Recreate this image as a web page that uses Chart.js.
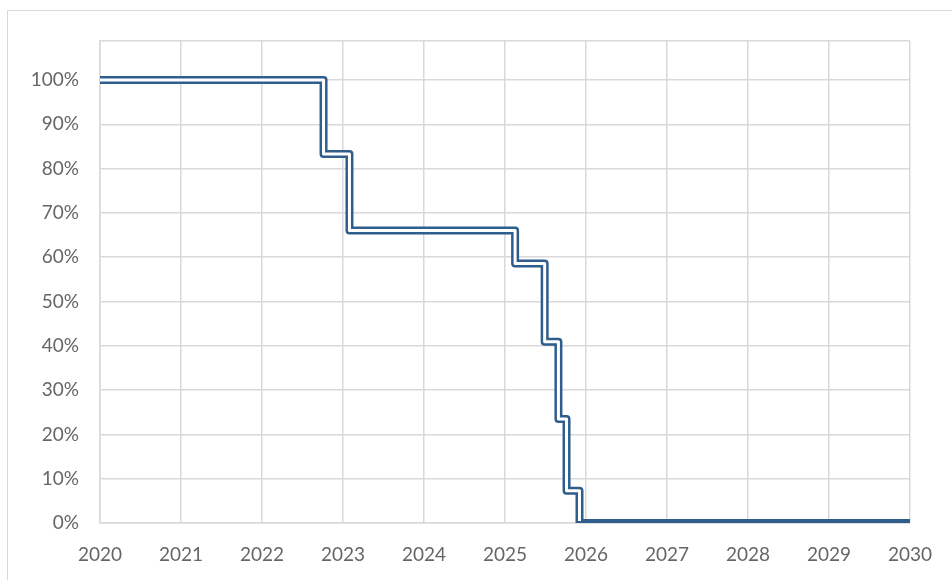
<!DOCTYPE html>
<html>
<head>
<meta charset="utf-8">
<title>Step chart 2020-2030</title>
<script src="https://cdn.jsdelivr.net/npm/chart.js@4.4.1/dist/chart.umd.min.js"></script>
<style>
  html, body { margin: 0; padding: 0; background: #fff; }
  #wrap { position: relative; width: 952px; height: 580px; overflow: hidden; }
  #frame {
    position: absolute; left: 7px; top: 10px; width: 1000px; height: 700px;
    border-left: 1px solid #d9d9d9; border-top: 1px solid #d9d9d9;
  }
  #chart { position: absolute; left: 0; top: 0; }
</style>
</head>
<body>
<div id="wrap">
  <div id="frame"></div>
  <canvas id="chart" width="952" height="580"></canvas>
</div>
<script>
// Step data (x = year, y = share)
const years = [2020, 2022.76, 2023.08, 2025.125, 2025.49, 2025.66, 2025.76, 2025.92, 2030];
const share = [1.00, 0.833, 0.66, 0.586, 0.409, 0.235, 0.073, 0, 0];

// Axis settings
const xMin = 2020;
const xMax = 2030;
const yMax = 1.088;   // plot box ends a bit above 100%

const LINE_DARK = '#2f5d8c';
const GRID = '#d9d9d9';
const TEXT = '#666666';
const FONT = { family: 'Lato, "Open Sans", sans-serif', size: 19 };

const points = years.map((x, i) => ({ x: x, y: share[i] }));

new Chart(document.getElementById('chart'), {
  type: 'line',
  data: {
    datasets: [
      {
        // white centre stroke, drawn on top
        data: points,
        stepped: 'before',
        borderColor: '#ffffff',
        borderWidth: 3,
        borderJoinStyle: 'round',
        pointRadius: 0,
        fill: false,
        clip: { left: 0, top: 0, right: 0, bottom: -2 },
        order: 0
      },
      {
        // dark outer stroke
        data: points,
        stepped: 'before',
        borderColor: LINE_DARK,
        borderWidth: 8,
        borderJoinStyle: 'round',
        pointRadius: 0,
        fill: false,
        order: 1
      }
    ]
  },
  options: {
    responsive: false,
    animation: false,
    layout: { padding: { top: 41, right: 37, left: 0, bottom: 0 } },
    plugins: { legend: { display: false }, tooltip: { enabled: false } },
    scales: {
      x: {
        type: 'linear',
        min: xMin,
        max: xMax,
        afterFit: (s) => { s.height = 57; },
        grid: { color: GRID, lineWidth: 1.5, drawTicks: false },
        border: { color: GRID, width: 1.5 },
        ticks: {
          stepSize: 1,
          padding: 20,
          color: TEXT,
          font: FONT,
          maxRotation: 0,
          callback: (v) => String(v)
        }
      },
      y: {
        min: 0,
        max: yMax,
        afterFit: (s) => { s.width = 100; },
        grid: { color: GRID, lineWidth: 1.5, drawTicks: false },
        border: { color: GRID, width: 1.5 },
        ticks: {
          stepSize: 0.1,
          padding: 21,
          color: TEXT,
          font: FONT,
          callback: (v) => {
            const p = Math.round(v * 1000) / 10;
            return Number.isInteger(p) && p % 10 === 0 ? p + '%' : '';
          }
        }
      }
    }
  }
});
</script>
</body>
</html>
